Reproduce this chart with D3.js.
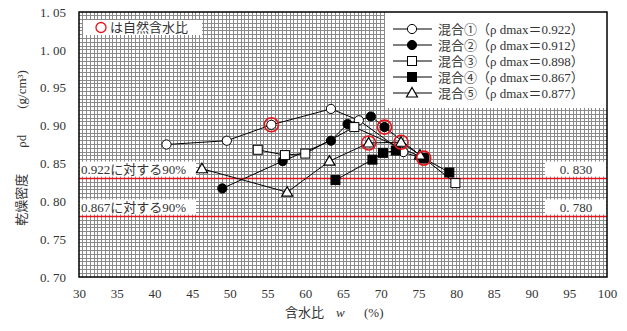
<!DOCTYPE html>
<html>
<head>
<meta charset="utf-8">
<script src="https://cdn.jsdelivr.net/npm/d3@7"></script>
<style>
  body { margin: 0; background: #fff; }
  text { font-family: "Liberation Serif", "Noto Sans CJK JP", serif; fill: #333; }
</style>
</head>
<body>
<script>
// data: [water content %, dry density g/cm3]
const mix1 = [[41.6, 0.875], [49.6, 0.880], [55.5, 0.901], [63.4, 0.922], [67.1, 0.907], [73.0, 0.865]]
const mix2 = [[49.0, 0.817], [57.0, 0.853], [63.4, 0.880], [65.6, 0.902], [68.7, 0.912], [70.5, 0.898], [75.7, 0.857]]
const mix3 = [[53.7, 0.868], [57.3, 0.861], [60.0, 0.863], [66.5, 0.898], [75.7, 0.857], [79.9, 0.824]]
const mix4 = [[64.0, 0.828], [68.9, 0.855], [70.3, 0.864], [72.0, 0.867], [75.7, 0.857], [79.1, 0.838]]
const mix5 = [[46.3, 0.843], [57.6, 0.812], [63.2, 0.853], [68.4, 0.877], [72.7, 0.878], [75.2, 0.861]]
const naturalPts = [[55.5, 0.901], [70.5, 0.898], [68.4, 0.877], [72.7, 0.878], [75.7, 0.857]]
const seriesNames = ['混合①（ρ dmax＝0.922）', '混合②（ρ dmax＝0.912）', '混合③（ρ dmax＝0.898）', '混合④（ρ dmax＝0.867）', '混合⑤（ρ dmax＝0.877）']
const limitValues = [0.830, 0.780]
const limitLabels = ['0.922に対する90%', '0.867に対する90%']
const xTicks = d3.range(30, 101, 5)
const yTicks = [0.70, 0.75, 0.80, 0.85, 0.90, 0.95, 1.00, 1.05]

const w = 627
const h = 331
const m = { left: 79, right: 20, top: 12, bottom: 54 }

const svg = d3.select('body').append('svg')
  .attr('width', w)
  .attr('height', h)

const x = d3.scaleLinear().domain([30, 100]).range([m.left, w - m.right])
const y = d3.scaleLinear().domain([0.70, 1.05]).range([h - m.bottom, m.top])

// fine grid (0.5 % x 0.005)
const grid = svg.append('g').attr('shape-rendering', 'crispEdges')
grid.selectAll('.gx')
  .data(d3.range(30.5, 100, 0.5))
  .enter().append('line')
  .attr('x1', d => x(d)).attr('x2', d => x(d))
  .attr('y1', y(0.70)).attr('y2', y(1.05))
  .attr('stroke', '#8a8a8a')
grid.selectAll('.gy')
  .data(d3.range(1, 70).map(i => 0.70 + i * 0.005))
  .enter().append('line')
  .attr('y1', d => y(d)).attr('y2', d => y(d))
  .attr('x1', x(30)).attr('x2', x(100))
  .attr('stroke', '#8a8a8a')

// limit lines
svg.selectAll('.limit')
  .data(limitValues)
  .enter().append('line')
  .attr('x1', x(30)).attr('x2', x(100))
  .attr('y1', d => y(d)).attr('y2', d => y(d))
  .attr('stroke', '#e8141c')
  .attr('stroke-width', 1.5)

limitValues.forEach((v, i) => {
  const yy = y(v)
  svg.append('rect').attr('x', x(30) + 1).attr('y', yy - 17).attr('width', 116).attr('height', 15).attr('fill', '#fff')
  svg.append('text').attr('x', x(30) + 2).attr('y', yy - 4.5).attr('font-size', 13).text(limitLabels[i])
  svg.append('rect').attr('x', x(100) - 62).attr('y', yy - 17).attr('width', 61).attr('height', 15).attr('fill', '#fff')
  svg.append('text').attr('x', x(100) - 31).attr('y', yy - 4.5).attr('font-size', 13)
    .attr('text-anchor', 'middle').text(d3.format('.3f')(v).replace('.', '. '))
})

// series
const line = d3.line().x(d => x(d[0])).y(d => y(d[1]))
const allSeries = [mix1, mix2, mix3, mix4, mix5]
const kinds = ['circle-open', 'circle-fill', 'square-open', 'square-fill', 'triangle']

const drawMarker = (g, kind, cx, cy) => {
  const fill = kind.endsWith('fill') ? '#000' : '#fff'
  if (kind.startsWith('circle')) {
    g.append('circle').attr('cx', cx).attr('cy', cy).attr('r', 4.6)
      .attr('fill', fill).attr('stroke', '#000').attr('stroke-width', 1)
  } else if (kind.startsWith('square')) {
    g.append('rect').attr('x', cx - 4.5).attr('y', cy - 4.5).attr('width', 9).attr('height', 9)
      .attr('fill', fill).attr('stroke', '#000').attr('stroke-width', 1)
  } else {
    g.append('path').attr('d', `M${cx},${cy - 5.5}L${cx + 5.5},${cy + 4}L${cx - 5.5},${cy + 4}Z`)
      .attr('fill', '#fff').attr('stroke', '#000').attr('stroke-width', 1.2)
  }
}

allSeries.forEach((s, i) => {
  svg.append('path').datum(s).attr('d', line)
    .attr('fill', 'none').attr('stroke', '#000').attr('stroke-width', 1)
})
const marks = svg.append('g')
allSeries.forEach((s, i) => {
  s.forEach(d => drawMarker(marks, kinds[i], x(d[0]), y(d[1])))
})

svg.selectAll('.nat')
  .data(naturalPts)
  .enter().append('circle')
  .attr('cx', d => x(d[0])).attr('cy', d => y(d[1])).attr('r', 7)
  .attr('fill', 'none').attr('stroke', '#e8141c').attr('stroke-width', 1.6)

// legend
const lg = svg.append('g')
lg.append('rect').attr('x', 385).attr('y', m.top).attr('width', x(100) - 385).attr('height', 96).attr('fill', '#fff')
seriesNames.forEach((name, i) => {
  const ly = 29 + i * 16
  lg.append('line').attr('x1', 393).attr('x2', 432).attr('y1', ly).attr('y2', ly).attr('stroke', '#000')
  drawMarker(lg, kinds[i], 412, ly)
  lg.append('text').attr('x', 438).attr('y', ly + 4.5).attr('font-size', 13).text(name)
})

svg.append('rect').attr('x', 83).attr('y', 20).attr('width', 119).attr('height', 15).attr('fill', '#fff')
svg.append('circle').attr('cx', 101).attr('cy', 27.5).attr('r', 5).attr('fill', 'none').attr('stroke', '#e8141c').attr('stroke-width', 1.3)
svg.append('text').attr('x', 110).attr('y', 32).attr('font-size', 13).text('は自然含水比')

// frame
svg.append('rect')
  .attr('x', x(30)).attr('y', y(1.05))
  .attr('width', x(100) - x(30)).attr('height', y(0.70) - y(1.05))
  .attr('fill', 'none').attr('stroke', '#000').attr('stroke-width', 1.5)

// axes
const xAxis = d3.axisBottom(x).tickValues(xTicks).tickSize(0).tickPadding(12).tickFormat(d3.format('d'))
const yAxis = d3.axisLeft(y).tickValues(yTicks).tickSize(0).tickPadding(13)
  .tickFormat(d => d3.format('.2f')(d).replace('.', '. '))

const gx = svg.append('g').attr('transform', `translate(0,${y(0.70)})`).call(xAxis)
const gy = svg.append('g').attr('transform', `translate(${x(30)},0)`).call(yAxis)
;[gx, gy].forEach(g => {
  g.select('.domain').remove()
  g.selectAll('text').attr('font-size', 13).attr('fill', '#333')
    .attr('font-family', '"Liberation Serif", "Noto Sans CJK JP", serif')
})

// axis titles
const xt = svg.append('text').attr('x', 285).attr('y', 317).attr('font-size', 13)
xt.append('tspan').text('含水比')
xt.append('tspan').attr('x', 336).attr('font-style', 'italic').text('w')
xt.append('tspan').attr('x', 364).text('(%)')

const yt = svg.append('text').attr('transform', 'translate(26,148) rotate(-90)')
  .attr('text-anchor', 'middle').attr('font-size', 13)
  .attr('xml:space', 'preserve').style('white-space', 'pre')
  .text('乾燥密度　　ρd　　(g/cm³)')
</script>
</body>
</html>
